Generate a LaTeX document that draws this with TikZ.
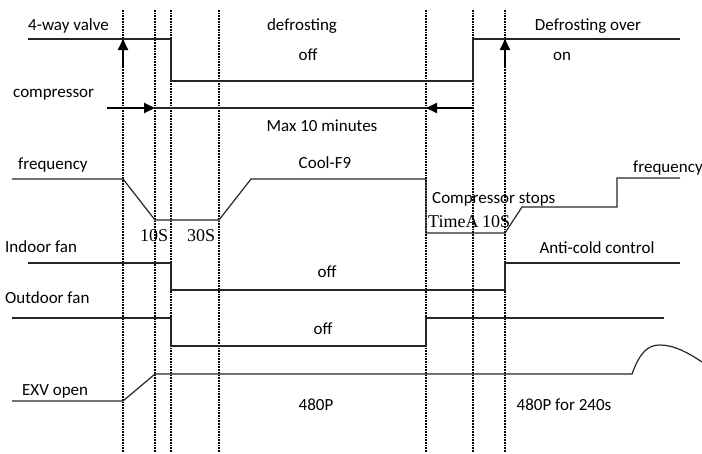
\documentclass[tikz,border=0pt]{standalone}
\usepackage{fontspec}
\setmainfont{Carlito}
\newfontfamily\tms{Liberation Serif}
\usetikzlibrary{arrows.meta}
\begin{document}
\begin{tikzpicture}[x=1pt,y=-1pt,
  sig/.style={line width=1.2pt,black!85},
  guide/.style={densely dotted,line width=1.7pt},
  bigarrow/.style={line width=2pt,-{Triangle[length=11pt,width=10pt]}},
  lbl/.style={inner sep=0pt,yshift=-3pt,font=\fontsize{17}{20}\selectfont},
  slbl/.style={inner sep=0pt,yshift=-3pt,font=\tms\fontsize{18}{20}\selectfont},
  every node/.style={text=black}]
\useasboundingbox (0,0) rectangle (702,453);
% guides
\foreach \x/\n in {123/a,155/b,171/c,219/d,426/e,473/f,505/g}{
  \coordinate (top\n) at (\x,10);
  \coordinate (bot\n) at (\x,452);
  \draw[guide] (top\n) -- (bot\n);
}
% 4-way valve
\draw[sig] (28,39) -- (171,39) -- (171,81) -- (473,81) -- (473,39) -- (680,39);
\coordinate (va0) at (123,68); \coordinate (va1) at (123,39);
\coordinate (vb0) at (505,68); \coordinate (vb1) at (505,39);
\draw[bigarrow] (va0) -- (va1);
\draw[bigarrow] (vb0) -- (vb1);
% compressor
\draw[sig] (155,108) -- (473,108);
\coordinate (ca0) at (107,108); \coordinate (ca1) at (155,108);
\coordinate (cb0) at (473,108); \coordinate (cb1) at (426,108);
\draw[bigarrow] (ca0) -- (ca1);
\draw[bigarrow] (cb0) -- (cb1);
% frequency
\draw[sig] (12,179) -- (123,179) -- (155,220) -- (219,220) -- (251,179) -- (426,179) -- (426,233) -- (505,233) -- (522,207) -- (617,207) -- (617,178) -- (680,178);
% indoor fan
\draw[sig] (28,263) -- (171,263) -- (171,290) -- (505,290) -- (505,263) -- (680,263);
% outdoor fan
\draw[sig] (12,318) -- (171,318) -- (171,346) -- (426,346) -- (426,318) -- (664,318);
% EXV
\draw[sig] (12,401) -- (123,401) -- (155,374) -- (632,374) .. controls (640,352) and (648,345) .. (660,345) .. controls (675,345) and (690,354) .. (702,362);
% labels
\node[lbl,anchor=mid west] (l1) at (28,25) {4-way valve};
\node[lbl,anchor=mid west] (l2) at (13,92) {compressor};
\node[lbl,anchor=mid west] (l3) at (18,164) {frequency};
\node[lbl,anchor=mid west] (l4) at (5,247) {Indoor fan};
\node[lbl,anchor=mid west] (l5) at (5,298) {Outdoor fan};
\node[lbl,anchor=mid west] (l6) at (22,390) {EXV open};
\node[lbl,anchor=mid] (t1) at (302,25) {defrosting};
\node[lbl,anchor=mid] (t2) at (308,55) {off};
\node[lbl,anchor=mid] (t3) at (588,25) {Defrosting over};
\node[lbl,anchor=mid] (t4) at (562,55) {on};
\node[lbl,anchor=mid] (t5) at (322,126) {Max 10 minutes};
\node[lbl,anchor=mid] (t6) at (325,163) {Cool-F9};
\node[lbl,anchor=mid west] (t7) at (432,198) {Compressor stops};
\node[slbl,anchor=mid west] (t8) at (428,222) {TimeA};
\node[slbl,anchor=mid west] (t9) at (482,222) {10S};
\node[slbl,anchor=mid west] (t10) at (140,236) {10S};
\node[slbl,anchor=mid west] (t11) at (187,236) {30S};
\node[lbl,anchor=mid west] (t12) at (633,167) {frequency};
\node[lbl,anchor=mid] (t13) at (597,248) {Anti-cold control};
\node[lbl,anchor=mid] (t14) at (327,272) {off};
\node[lbl,anchor=mid] (t15) at (323,329) {off};
\node[lbl,anchor=mid] (t16) at (316,405) {480P};
\node[lbl,anchor=mid] (t17) at (564,405) {480P for 240s};
\end{tikzpicture}
\end{document}
